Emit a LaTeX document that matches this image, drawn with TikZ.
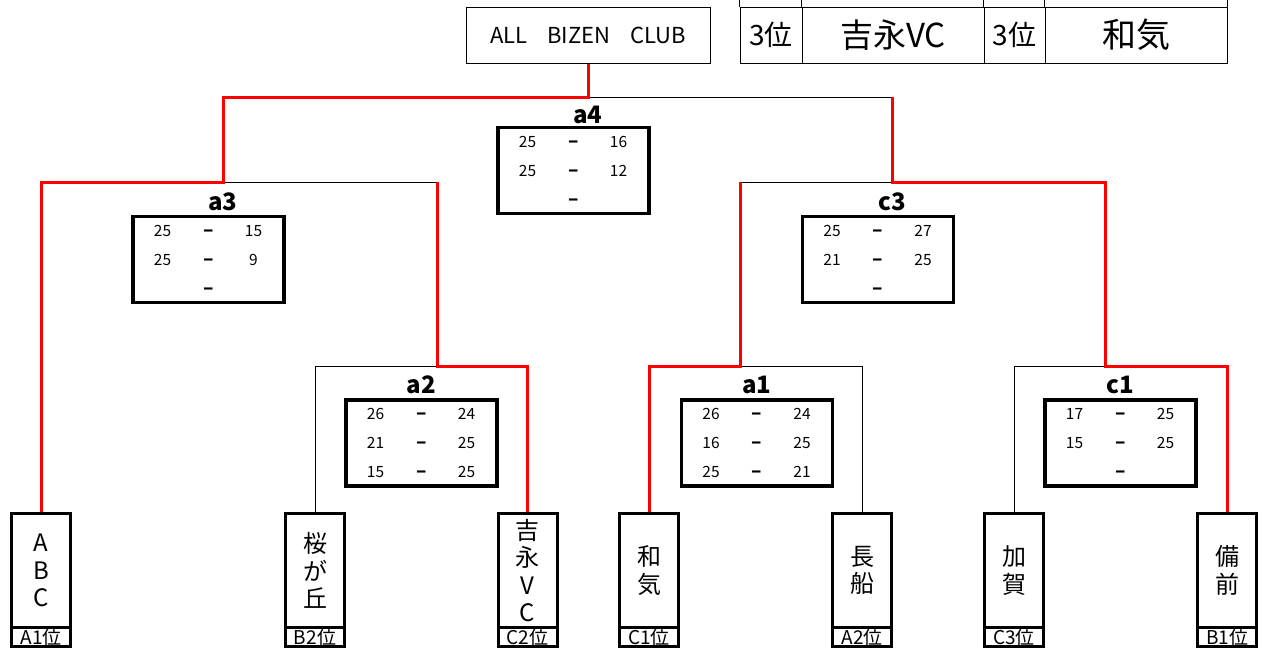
\documentclass[tikz,border=0pt]{standalone}
\usepackage{fontspec}
\setmainfont{Noto Sans CJK JP}
\definecolor{wirered}{RGB}{255,0,0}
\tikzset{
 blackwire/.style={draw=black,line width=1pt},
 redwire/.style={draw=wirered,line width=3pt},
 titlebox/.style={draw=black,line width=1pt,minimum width=244pt,minimum height=56pt,inner sep=0pt,font=\fontsize{22}{26}\selectfont},
 cell/.style={draw=black,line width=1pt,minimum height=56pt,inner sep=0pt},
 scorebox/.style={draw=black,line width=3.5pt,minimum width=151pt,minimum height=86pt,inner sep=0pt},
 scoretxt/.style={anchor=base,inner sep=0pt,font=\fontsize{15.5}{18}\selectfont},
 dashtxt/.style={anchor=base,inner sep=0pt,font=\fontsize{19}{22}\selectfont\bfseries},
 matchlabel/.style={anchor=base,inner sep=0pt,font=\fontsize{24}{28}\selectfont\bfseries},
 teambox/.style={draw=black,line width=3pt,minimum width=59pt,minimum height=114pt,inner sep=0pt,align=center,font=\fontsize{24}{27.5}\selectfont},
 teamtag/.style={draw=black,line width=3pt,minimum width=59pt,minimum height=19pt,inner sep=0pt,font=\fontsize{19}{20}\selectfont},
}
\newcommand\scoreset[8]{%
 \node[scorebox] (#1) at (#2) {};
 \node[scoretxt] (#1l1) at ([shift={(-46,-23.5)}]#1.center) {#3};
 \node[dashtxt]  (#1d1) at ([shift={(0,-23.5)}]#1.center) {–};
 \node[scoretxt] (#1r1) at ([shift={(45,-23.5)}]#1.center) {#4};
 \node[scoretxt] (#1l2) at ([shift={(-46,5.5)}]#1.center) {#5};
 \node[dashtxt]  (#1d2) at ([shift={(0,5.5)}]#1.center) {–};
 \node[scoretxt] (#1r2) at ([shift={(45,5.5)}]#1.center) {#6};
 \node[scoretxt] (#1l3) at ([shift={(-46,34.5)}]#1.center) {#7};
 \node[dashtxt]  (#1d3) at ([shift={(0,34.5)}]#1.center) {–};
 \node[scoretxt] (#1r3) at ([shift={(45,34.5)}]#1.center) {#8};
}
\begin{document}
\begin{tikzpicture}[x=1pt,y=-1pt]
\useasboundingbox (0,0) rectangle (1263,648);
% title
\node[titlebox] (title) at (588,35) {ALL\hspace{15pt} BIZEN\hspace{15pt} CLUB};
% third place table
\node[cell,minimum width=62pt,font=\fontsize{28}{30}\selectfont] (t1) at (771,35) {3位};
\node[cell,minimum width=182pt,font=\fontsize{33}{36}\selectfont] (t2) at (893,35) {吉永VC};
\node[cell,minimum width=61pt,font=\fontsize{28}{30}\selectfont] (t3) at (1014.5,35) {3位};
\node[cell,minimum width=182pt,font=\fontsize{34}{36}\selectfont] (t4) at (1136,35) {和気};
\foreach \c in {t1,t2,t3,t4} {\draw[blackwire] (\c.north west) -- ++(0,-9);}
\draw[blackwire] (t4.north east) -- ++(0,-9);
% teams
\node[teambox] (abc) at (41,570.5) {A\\B\\C};
\node[teamtag] (abctag) at (41,637) {A1位};
\node[teambox] (sakura) at (315,570.5) {桜\\が\\丘};
\node[teamtag] (sakuratag) at (315,637) {B2位};
\node[teambox] (yoshi) at (527.5,570.5) {吉\\永\\V\\C};
\node[teamtag] (yoshitag) at (527.5,637) {C2位};
\node[teambox] (wake) at (649,570.5) {和\\気};
\node[teamtag] (waketag) at (649,637) {C1位};
\node[teambox] (osa) at (862,570.5) {長\\船};
\node[teamtag] (osatag) at (862,637) {A2位};
\node[teambox] (kaga) at (1014,570.5) {加\\賀};
\node[teamtag] (kagatag) at (1014,637) {C3位};
\node[teambox] (bizen) at (1227,570.5) {備\\前};
\node[teamtag] (bizentag) at (1227,637) {B1位};
% junctions
\coordinate (ja4) at (588,97);
\coordinate (ja3) at (223,182);
\coordinate (jc3) at (892,182);
\coordinate (ja2) at (437,366);
\coordinate (ja1) at (740,366);
\coordinate (jc1) at (1105,366);
% black connectors
\draw[blackwire] (ja4) -- (jc3 |- ja4);
\draw[blackwire] (ja3) -- (ja2 |- ja3);
\draw[blackwire] (jc3) -- (ja1 |- jc3);
\draw[blackwire] (ja2) -| (sakura.north);
\draw[blackwire] (ja1) -| (osa.north);
\draw[blackwire] (jc1) -| (kaga.north);
% red connectors
\draw[redwire] (abc.north) |- (ja3) |- (ja4) -- (title.south);
\draw[redwire] (yoshi.north) |- (ja2) -- (ja2 |- ja3);
\draw[redwire] (wake.north) |- (ja1) -- (ja1 |- jc3);
\draw[redwire] (bizen.north) |- (jc1) |- (jc3) -- (jc3 |- ja4);
% score boxes
\scoreset{a4}{573.5,170.5}{25}{16}{25}{12}{}{}
\scoreset{a3}{208.5,259.5}{25}{15}{25}{9}{}{}
\scoreset{c3}{878,259.5}{25}{27}{21}{25}{}{}
\scoreset{a2}{421.5,443}{26}{24}{21}{25}{15}{25}
\scoreset{a1}{757,443}{26}{24}{16}{25}{25}{21}
\scoreset{c1}{1120.5,443}{17}{25}{15}{25}{}{}
% match labels
\node[matchlabel] (la4) at (588,123) {a4};
\node[matchlabel] (la3) at (223,210) {a3};
\node[matchlabel] (lc3) at (892,210) {c3};
\node[matchlabel] (la2) at (421.5,393) {a2};
\node[matchlabel] (la1) at (757,393) {a1};
\node[matchlabel] (lc1) at (1120.5,393) {c1};
\end{tikzpicture}
\end{document}
